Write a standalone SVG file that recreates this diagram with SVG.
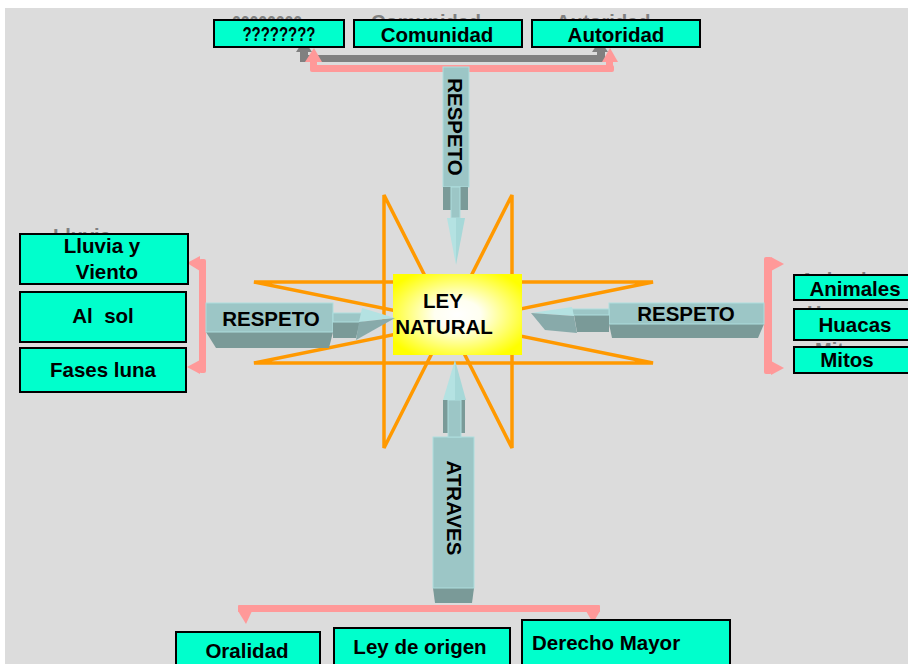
<svg xmlns="http://www.w3.org/2000/svg" width="908" height="664" viewBox="0 0 908 664">
<defs>
<radialGradient id="yg" cx="0.5" cy="0.5" r="0.6">
<stop offset="0" stop-color="#FFFFFF"/>
<stop offset="0.3" stop-color="#FFFFF0"/>
<stop offset="1" stop-color="#FFFF00"/>
</radialGradient>
<style>
.box{fill:#00FFCC;stroke:#000;stroke-width:2}
.t{font-family:"Liberation Sans",Arial,sans-serif;font-weight:bold;font-size:20.5px;fill:#000}
.g{font-family:"Liberation Sans",Arial,sans-serif;font-weight:bold;font-size:20px;fill:#808080}
.c{text-anchor:middle}
.star{fill:none;stroke:#FF9900;stroke-width:3.5}
.lt{fill:#9CC6C6;stroke:#AEDEDE;stroke-width:1}
.dk{fill:#7A9A98}
.hl{fill:#B4E2E2}
.pk{fill:#FF9999}
.gy{fill:#808080}
</style>
</defs>
<rect x="0" y="0" width="908" height="664" fill="#FFFFFF"/>
<rect x="5" y="8" width="903" height="656" fill="#DCDCDC"/>

<g id="star">
<polygon class="star" points="384,195 512,448 512,195 384,448"/>
<polygon class="star" points="254,282 653,282 254,363 653,363"/>
</g>

<g id="ley-natural">
<rect x="393" y="274" width="129" height="81" fill="url(#yg)"/>
<text class="t c" x="443" y="308">LEY</text>
<text class="t c" x="444" y="334">NATURAL</text>
</g>

<g id="connectors">
<!-- top gray bracket -->
<rect class="gy" x="304" y="55" width="300" height="7"/>
<rect class="gy" x="300" y="50" width="8" height="12"/>
<rect class="gy" x="597" y="50" width="8" height="12"/>
<polygon class="gy" points="296,52 304,40 312,52"/>
<polygon class="gy" points="592,52 600,40 608,52"/>
<!-- top pink bracket -->
<rect class="pk" x="310" y="65" width="304" height="7" rx="2"/>
<rect class="pk" x="310" y="60" width="7" height="10"/>
<rect class="pk" x="606" y="60" width="7" height="10"/>
<polygon class="pk" points="305,62 314,48 322,62"/>
<polygon class="pk" points="602,62 610,48 618,62"/>
<!-- left pink bracket -->
<rect class="pk" x="199" y="259" width="7" height="114" rx="2"/>
<polygon class="pk" points="200,256 187,263 200,271"/>
<polygon class="pk" points="200,360 187,367 200,374"/>
<!-- right pink bracket -->
<rect class="pk" x="764" y="257" width="8" height="117" rx="2"/>
<polygon class="pk" points="771,257 784,264 771,271"/>
<polygon class="pk" points="771,361 784,368 771,375"/>
<!-- bottom pink bracket -->
<rect class="pk" x="238" y="605" width="362" height="7" rx="1"/>
<polygon class="pk" points="238,611 246,624 252,611"/>
<polygon class="pk" points="586,611 593,623 600,611"/>

<!-- top arrow (down) -->
<g id="arrow-top">
<rect class="lt" x="443" y="67" width="26" height="120"/>
<rect class="dk" x="443" y="187" width="8" height="23"/>
<rect class="dk" x="460" y="187" width="8" height="23"/>
<rect class="lt" x="451" y="187" width="9" height="31"/>
<polygon class="hl" points="447,218 456,218 456,265"/>
<polygon fill="#A6D8D8" points="456,218 465,218 456,265"/>
<text class="t c" transform="translate(455,127) rotate(90)" y="7">RESPETO</text>
</g>

<!-- left arrow (right) -->
<g id="arrow-left">
<polygon class="dk" points="206,332 216,348 329,348 333,332"/>
<rect class="lt" x="206" y="303" width="127" height="29"/>
<polygon class="dk" points="333,322 360,322 356,338 333,338"/>
<rect class="lt" x="333" y="313" width="30" height="9"/>
<polygon class="hl" points="362,308 395,318 359,322"/>
<polygon fill="#88AAAA" points="359,322 395,318 356,340"/>
<text class="t c" x="271" y="326">RESPETO</text>
</g>

<!-- right arrow (left) -->
<g id="arrow-right">
<polygon class="dk" points="609,324 764,324 758,338 612,338"/>
<rect class="lt" x="609" y="303" width="155" height="21"/>
<polygon class="dk" points="574,315 609,315 609,332 577,332"/>
<rect class="lt" x="572" y="309" width="37" height="6"/>
<polygon class="hl" points="531,313 572,307 574,316"/>
<polygon fill="#88AAAA" points="531,313 574,316 577,333 545,330"/>
<text class="t c" x="686" y="321">RESPETO</text>
</g>

<!-- bottom arrow (up) -->
<g id="arrow-bottom">
<polygon class="dk" points="433,588 474,588 472,603 435,603"/>
<rect class="lt" x="433" y="437" width="41" height="151"/>
<rect class="dk" x="443" y="400" width="5" height="33"/>
<rect class="dk" x="461" y="400" width="4" height="33"/>
<rect class="lt" x="448" y="400" width="13" height="37"/>
<polygon class="hl" points="443,400 455,360 455,400"/>
<polygon fill="#A6D8D8" points="455,360 466,400 455,400"/>
<text class="t c" transform="translate(454,508) rotate(90)" y="7">ATRAVES</text>
</g>
</g>

<!-- ghost texts -->
<g id="ghosts">
<text class="g" x="232" y="30" textLength="70" lengthAdjust="spacingAndGlyphs">????????</text>
<text class="g" x="371" y="29">Comunidad</text>
<text class="g" x="556" y="29">Autoridad</text>
<text class="g" x="53" y="243">Lluvia</text>
<text class="g" x="800" y="287">Animales</text>
<text class="g" x="807" y="320">Huacas</text>
<text class="g" x="815" y="357">Mitos</text>
</g>

<g id="n-signos">
<rect class="box" x="214" y="20" width="130" height="27"/>
<text class="t c" x="279" y="41" textLength="73" lengthAdjust="spacingAndGlyphs">????????</text>
</g>
<g id="n-comunidad">
<rect class="box" x="354" y="20" width="168" height="27"/>
<text class="t c" x="437" y="42">Comunidad</text>
</g>
<g id="n-autoridad">
<rect class="box" x="532" y="20" width="168" height="27"/>
<text class="t c" x="616" y="42">Autoridad</text>
</g>

<g id="n-lluvia">
<rect class="box" x="20" y="234" width="168" height="50"/>
<text class="t c" x="102" y="253">Lluvia y</text>
<text class="t c" x="107" y="279">Viento</text>
</g>
<g id="n-sol">
<rect class="box" x="20" y="292" width="166" height="50"/>
<text class="t c" x="103" y="323" xml:space="preserve">Al  sol</text>
</g>
<g id="n-luna">
<rect class="box" x="20" y="348" width="166" height="44"/>
<text class="t c" x="103" y="377">Fases luna</text>
</g>

<g id="n-animales">
<rect class="box" x="794" y="275" width="120" height="25"/>
<text class="t c" x="855" y="296">Animales</text>
</g>
<g id="n-huacas">
<rect class="box" x="794" y="309" width="120" height="31"/>
<text class="t c" x="855" y="332">Huacas</text>
</g>
<g id="n-mitos">
<rect class="box" x="794" y="347" width="120" height="26"/>
<text class="t c" x="847" y="367">Mitos</text>
</g>

<g id="n-oralidad">
<rect class="box" x="176" y="632" width="144" height="40"/>
<text class="t c" x="247" y="658">Oralidad</text>
</g>
<g id="n-ley-origen">
<rect class="box" x="334" y="628" width="176" height="44"/>
<text class="t c" x="420" y="654">Ley de origen</text>
</g>
<g id="n-derecho">
<rect class="box" x="522" y="620" width="208" height="52"/>
<text class="t" x="532" y="650">Derecho Mayor</text>
</g>
</svg>
